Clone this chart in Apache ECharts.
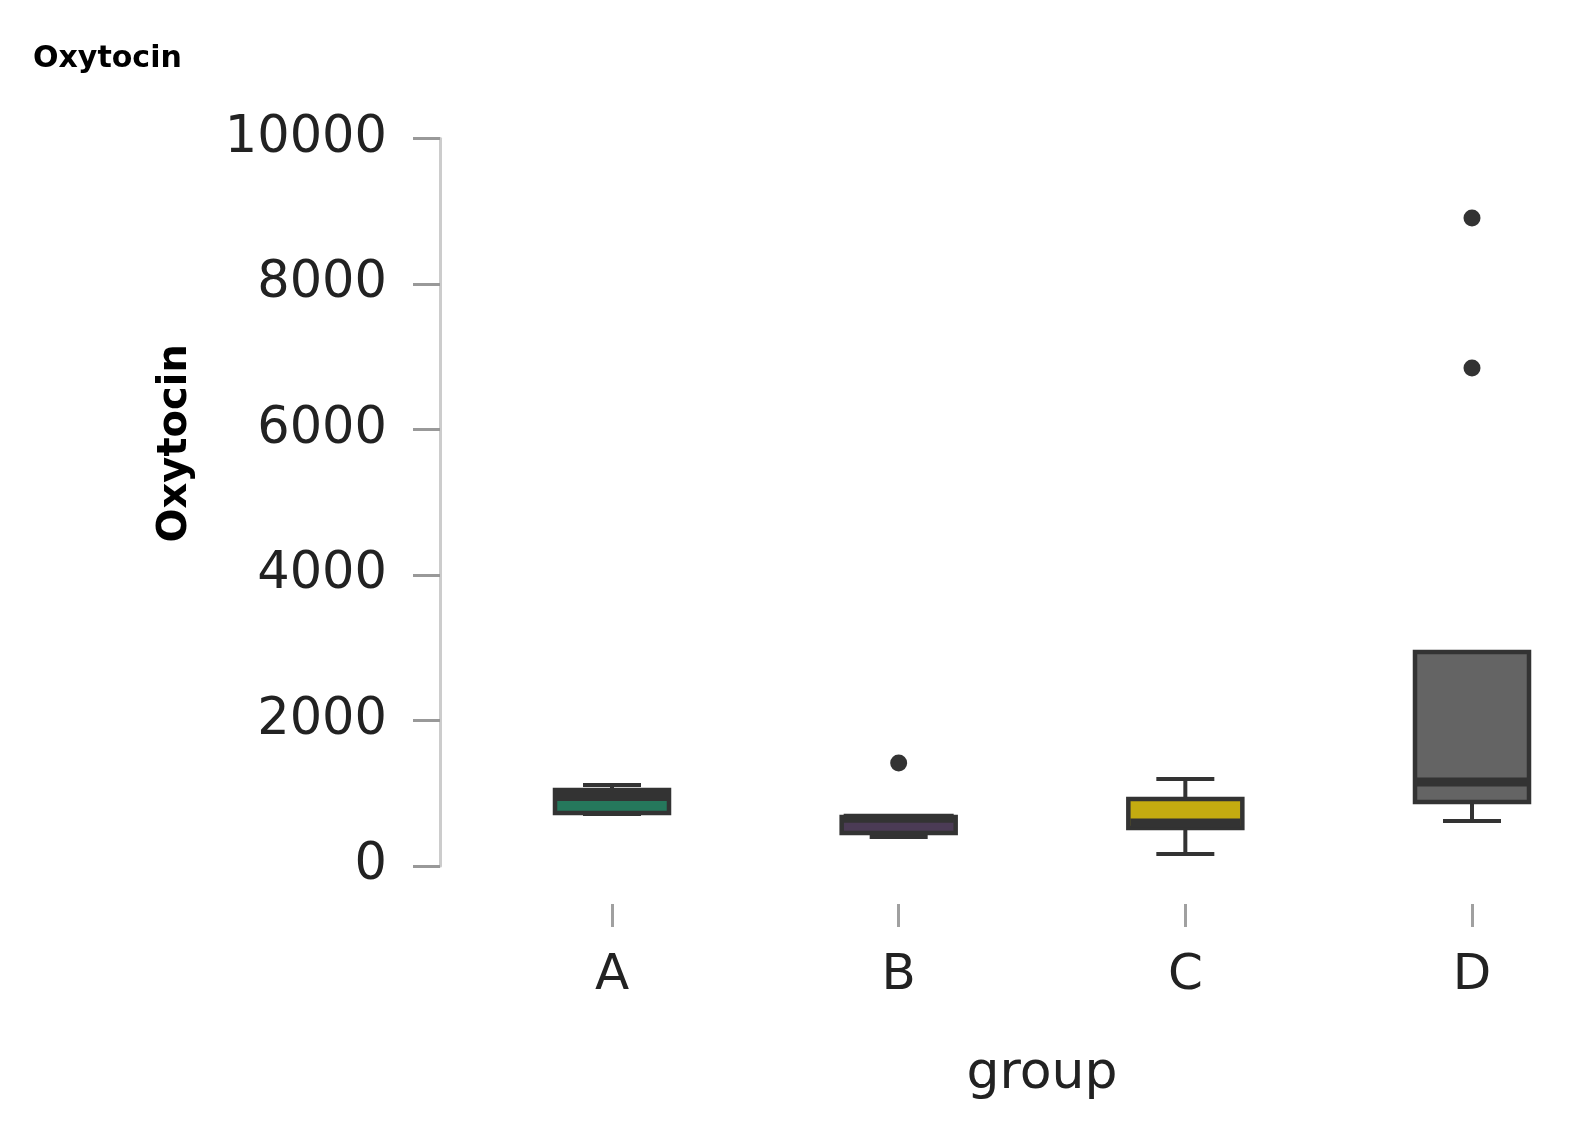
<!DOCTYPE html>
<html>
<head>
<meta charset="utf-8">
<title>Oxytocin by group</title>
<script src="https://cdn.jsdelivr.net/npm/echarts@6/dist/echarts.min.js"></script>
<style>
  html, body { margin: 0; padding: 0; background: #fff; }
  #chart { width: 1580px; height: 1139px; }
</style>
</head>
<body>
<div id="chart"></div>
<script>
// data
const categories = ["A", "B", "C", "D"];
const lowerWhisker = [715, 399, 165, 619];
const q1 = [729, 454, 522, 880];
const median = [955, 655, 591, 1155];
const q3 = [1045, 674, 921, 2942];
const upperWhisker = [1113, 674, 1196, 2942];
const outlierGroups = ["B", "D", "D"];
const outlierValues = [1416, 6845, 8907];

// box fill colours, one per group
const fills = ["#25785c", "#4b3b55", "#c4ab10", "#646464"];
const edge = "#333333";
const font = "DejaVu Sans";

const boxData = categories.map((c, i) => [
  i, lowerWhisker[i], q1[i], median[i], q3[i], upperWhisker[i],
]);
const outlierData = outlierGroups.map((g, k) => [
  categories.indexOf(g), outlierValues[k],
]);

// box, whiskers and thick median drawn through the axis scales
function renderBox(params, api) {
  const i = api.value(0);
  const x = api.coord([i, 0])[0];
  const yLow = api.coord([i, api.value(1)])[1];
  const yQ1 = api.coord([i, api.value(2)])[1];
  const yMed = api.coord([i, api.value(3)])[1];
  const yQ3 = api.coord([i, api.value(4)])[1];
  const yHigh = api.coord([i, api.value(5)])[1];
  const half = 57;
  const cap = 29;
  const line = { stroke: edge, lineWidth: 4 };
  return {
    type: "group",
    children: [
      { type: "line", shape: { x1: x, y1: yHigh, x2: x, y2: yQ3 }, style: line },
      { type: "line", shape: { x1: x, y1: yQ1, x2: x, y2: yLow }, style: line },
      { type: "line", shape: { x1: x - cap, y1: yHigh, x2: x + cap, y2: yHigh }, style: line },
      { type: "line", shape: { x1: x - cap, y1: yLow, x2: x + cap, y2: yLow }, style: line },
      {
        type: "rect",
        shape: { x: x - half, y: yQ3, width: half * 2, height: yQ1 - yQ3 },
        style: { fill: fills[i], stroke: edge, lineWidth: 4.5 },
      },
      {
        type: "line",
        shape: { x1: x - half + 2, y1: yMed, x2: x + half - 2, y2: yMed },
        style: { stroke: edge, lineWidth: 9 },
      },
    ],
  };
}

const chart = echarts.init(document.getElementById("chart"));

const option = {
  animation: false,
  backgroundColor: "#ffffff",
  title: {
    text: "Oxytocin",
    left: 28,
    top: 39,
    textStyle: { fontFamily: font, fontSize: 30, fontWeight: "bold", color: "#000" },
  },
  grid: { left: 612, right: 108, top: 138.5, bottom: 273 },
  xAxis: {
    type: "category",
    data: categories,
    boundaryGap: false,
    offset: 38,
    axisLine: { show: false, onZero: false },
    axisTick: { show: true, length: 23, lineStyle: { color: "#a0a0a0", width: 3 } },
    axisLabel: { fontFamily: font, fontSize: 50, color: "#222", margin: 47 },
    splitLine: { show: false },
    name: "group",
    nameLocation: "middle",
    nameGap: 144,
    nameTextStyle: { fontFamily: font, fontSize: 52, color: "#222" },
  },
  yAxis: {
    type: "value",
    min: 0,
    max: 10000,
    interval: 2000,
    offset: 172,
    axisLine: { show: true, lineStyle: { color: "#cccccc", width: 3 } },
    axisTick: { show: true, length: 27, lineStyle: { color: "#999999", width: 3 } },
    axisLabel: {
      fontFamily: font,
      fontSize: 51,
      color: "#222",
      margin: 53,
      formatter: (v) => String(v),
    },
    splitLine: { show: false },
    name: "Oxytocin",
    nameLocation: "middle",
    nameGap: 244,
    nameTextStyle: {
      fontFamily: font,
      fontSize: 40,
      fontWeight: "bold",
      color: "#000",
      padding: [0, 0, 0, 118],
    },
  },
  series: [
    {
      type: "custom",
      renderItem: renderBox,
      encode: { x: 0, y: [1, 2, 3, 4, 5] },
      data: boxData,
      clip: false,
    },
    {
      type: "scatter",
      data: outlierData,
      symbolSize: 17,
      itemStyle: { color: edge, opacity: 1 },
      clip: false,
    },
  ],
};

chart.setOption(option);
</script>
</body>
</html>
